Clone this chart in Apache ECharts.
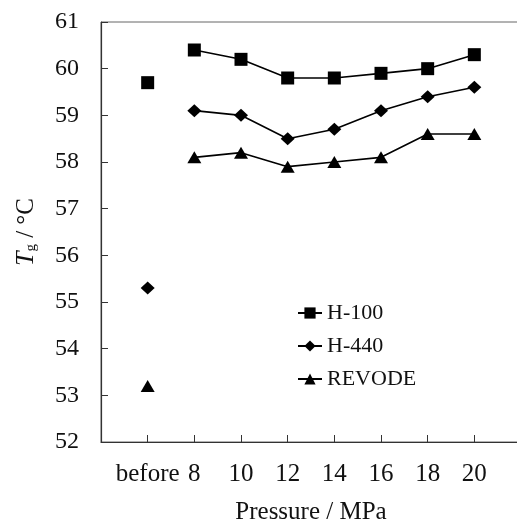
<!DOCTYPE html>
<html>
<head>
<meta charset="utf-8">
<script src="https://cdn.jsdelivr.net/npm/echarts@6/dist/echarts.min.js"></script>
<style>
  html, body { margin: 0; padding: 0; background: #fff; }
  #chart { width: 517px; height: 522px; }
</style>
</head>
<body>
<div id="chart"></div>
<script>
// Glass transition temperature versus processing pressure
const categories = ['before', '8', '10', '12', '14', '16', '18', '20'];
const seriesNames = ['H-100', 'H-440', 'REVODE'];
const h100 = [59.7, 60.4, 60.2, 59.8, 59.8, 59.9, 60.0, 60.3];
const h440 = [55.3, 59.1, 59.0, 58.5, 58.7, 59.1, 59.4, 59.6];
const revode = [53.2, 58.1, 58.2, 57.9, 58.0, 58.1, 58.6, 58.6];
const yTicks = [52, 53, 54, 55, 56, 57, 58, 59, 60, 61];

const FONT = '"Liberation Serif", "Times New Roman", serif';
const symbols = ['rect', 'diamond', 'triangle'];
const symbolSizes = [[13, 13], [14, 13], [14, 12]];
const values = [h100, h440, revode];

// blank slots at both ends leave a half-step margin around the data
const axisCats = [''].concat(categories, ['']);
const pad = () => '-';

const series = [];
values.forEach((vals, k) => {
  // pressure points joined by a line
  series.push({
    name: seriesNames[k],
    type: 'line',
    data: [pad(), pad()].concat(vals.slice(1), [pad()]),
    symbol: symbols[k],
    symbolSize: symbolSizes[k],
    itemStyle: { color: '#000', opacity: 1 },
    lineStyle: { color: '#000', width: 1.6 },
    z: 3
  });
  // untreated sample, drawn alone
  series.push({
    type: 'scatter',
    data: [[categories[0], vals[0]]],
    symbol: symbols[k],
    symbolSize: symbolSizes[k],
    itemStyle: { color: '#000', opacity: 1 },
    z: 3
  });
});

const chart = echarts.init(document.getElementById('chart'), null, { renderer: 'canvas' });
chart.setOption({
  animation: false,
  backgroundColor: '#fff',
  grid: {
    left: 101, top: 22, width: 420, bottom: 80,
    outerBoundsMode: 'none',
    containLabel: false,
    show: true, borderColor: '#666', borderWidth: 1
  },
  legend: {
    data: seriesNames,
    orient: 'vertical',
    left: 292,
    top: 297,
    itemWidth: 24,
    itemHeight: 14,
    itemGap: 11,
    textStyle: { fontFamily: FONT, fontSize: 22, color: '#111', lineHeight: 22 }
  },
  xAxis: {
    type: 'category',
    data: axisCats,
    boundaryGap: false,
    name: 'Pressure / MPa',
    nameLocation: 'middle',
    nameGap: 58,
    nameTextStyle: { fontFamily: FONT, fontSize: 25, color: '#111' },
    axisLine: { lineStyle: { color: '#333', width: 1.2 } },
    axisTick: {
      inside: true, length: 7,
      interval: (i) => i > 0 && i < axisCats.length - 1,
      lineStyle: { color: '#333' }
    },
    axisLabel: {
      interval: 0,
      margin: 20,
      fontFamily: FONT, fontSize: 25, color: '#111'
    },
    splitLine: { show: false }
  },
  yAxis: {
    type: 'value',
    min: yTicks[0],
    max: yTicks[yTicks.length - 1],
    interval: 1,
    name: '{i|T}{s|g}{n| / °C}',
    nameLocation: 'middle',
    nameRotate: 90,
    nameGap: 62,
    nameTextStyle: {
      fontFamily: FONT, fontSize: 25, color: '#111',
      rich: {
        i: { fontFamily: FONT, fontSize: 26, fontStyle: 'italic', color: '#111' },
        s: { fontFamily: FONT, fontSize: 15, color: '#111', padding: [11, 0, 0, 0] },
        n: { fontFamily: FONT, fontSize: 25, color: '#111' }
      }
    },
    axisLine: { show: true, lineStyle: { color: '#333', width: 1.2 } },
    axisTick: { show: true, inside: true, length: 7, lineStyle: { color: '#333' } },
    axisLabel: { margin: 22, fontFamily: FONT, fontSize: 24, color: '#111' },
    splitLine: { show: false }
  },
  series: series
});
</script>
</body>
</html>
